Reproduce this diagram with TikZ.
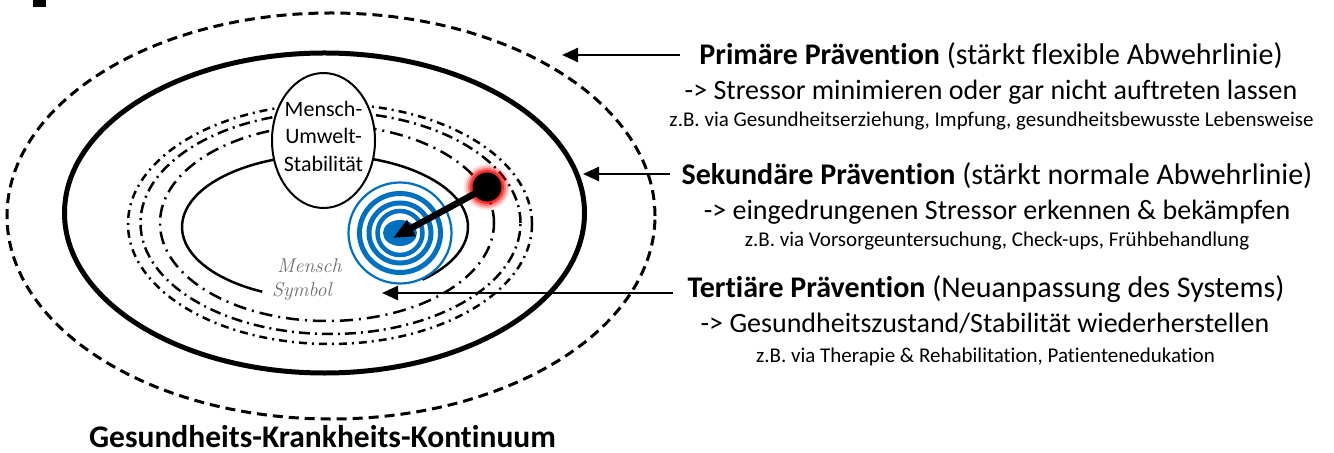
\documentclass[tikz,border=0pt]{standalone}
\usepackage{fontspec}
\newfontfamily\calib[Ligatures={NoCommon}]{Carlito}
\usetikzlibrary{arrows.meta,shapes.geometric}
\definecolor{tblue}{RGB}{0,112,192}
\definecolor{hgray}{RGB}{110,110,110}
\begin{document}
\begin{tikzpicture}[x=1bp,y=-1bp,
  txt/.style={anchor=base, inner sep=0pt},
  head/.style={txt, font=\calib\fontsize{30bp}{36bp}\selectfont},
  sub/.style={txt, font=\calib\fontsize{28bp}{34bp}\selectfont},
  ex/.style={txt, font=\calib\fontsize{21bp}{25bp}\selectfont},
  hand/.style={anchor=base west, inner sep=0pt, text=hgray, font=\itshape\fontsize{20bp}{23bp}\selectfont},
  pointer/.style={line width=2.5bp, -{Triangle[length=16bp,width=14bp]}},
  resist/.style={line width=2.5bp},
  ring/.style={draw=tblue, line width=5bp},
]
\useasboundingbox (0,0) rectangle (1334,453);
\fill (33,0) rectangle (46,7);

% flexible line of defense
\draw[line width=3bp, dash pattern=on 10bp off 6bp] (331,216) ellipse [x radius=324bp, y radius=203bp];
% normal line of defense
\draw[line width=5bp] (324.5,213) ellipse [x radius=260bp, y radius=160bp];
% lines of resistance
\draw[resist, dash pattern=on 8bp off 5bp on 2bp off 5bp] (330,224) ellipse [x radius=202bp, y radius=120bp];
\draw[resist, dash pattern=on 11bp off 5bp on 2bp off 5bp] (330.5,223) ellipse [x radius=190bp, y radius=111bp];
\draw[resist, dash pattern=on 13bp off 6bp on 2bp off 6bp] (327,223) ellipse [x radius=167bp, y radius=98bp];
% core
\draw[line width=2.5bp] (325,227) ++(-47:143bp and 72bp) arc[start angle=-47, end angle=244, x radius=143bp, y radius=72bp];

\node[ellipse, draw, line width=2bp, fill=white, minimum width=103bp, minimum height=135bp, inner sep=0pt] (musring) at (323.5,140.5) {};
\node[align=center, inner sep=0pt, font=\calib\fontsize{22bp}{27.5bp}\selectfont] (mustxt) at (323.5,136) {Mensch-\\Umwelt-\\Stabilität};

\node[hand] (hand1) at (277,273) {Mensch};
\node[hand] (hand2) at (272,297) {Symbol};

% target
\coordinate (tc) at (400,233);
\draw[tblue, line width=2.2bp] (tc) ellipse [x radius=51.5bp, y radius=50.5bp];
\draw[ring] (tc) ellipse [x radius=40.5bp, y radius=39.5bp];
\draw[ring] (tc) ellipse [x radius=31bp, y radius=30bp];
\draw[ring, line width=4.5bp] (tc) ellipse [x radius=22.5bp, y radius=22bp];
\fill[tblue] (tc) ellipse [x radius=17bp, y radius=13bp];

% stressor
\coordinate (sc) at (487,187);
\foreach \r/\o in {23/0.12,21/0.2,19/0.35,17/0.6}{\fill[red, opacity=\o] (sc) circle[radius=\r bp];}
\node[circle, fill=black, minimum size=29bp, inner sep=0pt] (stressor) at (sc) {};
\coordinate (tip) at (393,238);
\draw[line width=6.5bp, -{Triangle[length=21bp,width=17bp]}] (stressor.center) -- (tip);

% pointers
\coordinate (p1s) at (680,55);  \coordinate (p1e) at (562,55);
\coordinate (p2s) at (670,174); \coordinate (p2e) at (583,174);
\coordinate (p3s) at (673,293); \coordinate (p3e) at (382,293);
\draw[pointer] (p1s) -- (p1e);
\draw[pointer] (p2s) -- (p2e);
\draw[pointer] (p3s) -- (p3e);

% texts
\node[head] (h1) at (991,65) {\textbf{Primäre Prävention} (stärkt flexible Abwehrlinie)};
\node[sub]  (s1) at (991,100) {-> Stressor minimieren oder gar nicht auftreten lassen};
\node[ex]   (e1) at (991.5,127) {z.B. via Gesundheitserziehung, Impfung, gesundheitsbewusste Lebensweise};

\node[head] (h2) at (997,185) {\textbf{Sekundäre Prävention} (stärkt normale Abwehrlinie)};
\node[sub]  (s2) at (997,220) {-> eingedrungenen Stressor erkennen \& bekämpfen};
\node[ex]   (e2) at (997,247) {z.B. via Vorsorgeuntersuchung, Check-ups, Frühbehandlung};

\node[head] (h3) at (986,298) {\textbf{Tertiäre Prävention} (Neuanpassung des Systems)};
\node[sub]  (s3) at (985,333) {-> Gesundheitszustand/Stabilität wiederherstellen};
\node[ex]   (e3) at (985.5,362) {z.B. via Therapie \& Rehabilitation, Patientenedukation};

\node[txt, font=\calib\bfseries\fontsize{31.5bp}{36bp}\selectfont] (cont) at (322.5,447) {Gesundheits-Krankheits-Kontinuum};
\end{tikzpicture}
\end{document}
